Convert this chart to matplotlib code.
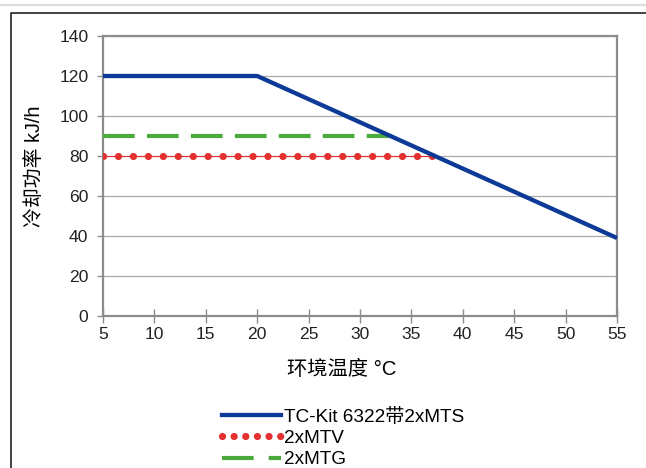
import matplotlib.pyplot as plt
from matplotlib.lines import Line2D

plt.rcParams['font.family'] = ['Liberation Sans', 'Noto Sans CJK SC', 'DejaVu Sans']

# data
x_tc = [5, 20, 55]
y_tc = [120, 120, 39]
x_mtv = [5, 37.1]
y_mtv = [80, 80]
x_mtg = [5, 33.1]
y_mtg = [90, 90]

xticks = list(range(5, 60, 5))
yticks = list(range(0, 160, 20))

labels = ["TC-Kit 6322带2xMTS", "2xMTV", "2xMTG"]

blue = "#0d3a96"
red = "#e4312f"
green = "#4aaa3c"
W, H = 646, 468

fig = plt.figure(figsize=(W / 100, H / 100), dpi=100)
ax = fig.add_axes([103 / W, 1 - 316 / H, 514 / W, 280 / H])

# frame bits around the chart
fig.add_artist(Line2D([0, 1], [1 - 5 / H, 1 - 5 / H], color="#dddddd", lw=1.6,
                      transform=fig.transFigure))
fig.add_artist(Line2D([11 / W, 11 / W, 1], [0, 1 - 13 / H, 1 - 13 / H], color="#111111",
                      lw=1.1, transform=fig.transFigure))

ax.plot(x_tc, y_tc, color=blue, lw=3.1, solid_capstyle="butt", zorder=5, clip_on=False)
ax.plot(x_mtv, y_mtv, color=red, lw=0.8, zorder=3)
ax.plot(x_mtv, y_mtv, color=red, lw=5.2, linestyle=(0, (0.01, 2.06)),
        dash_capstyle="round", zorder=4)
ax.plot(x_mtg, y_mtg, color=green, lw=3.0, linestyle=(0, (7.6, 2.95)),
        dash_capstyle="butt", zorder=4)

ax.set_xlim(5, 55)
ax.set_ylim(0, 140)
ax.set_xticks(xticks)
ax.set_yticks(yticks)
ax.yaxis.grid(True, color="#a8a8a8", lw=0.9)
ax.set_axisbelow(True)
for s in ax.spines.values():
    s.set_color("#8c8c8c")
    s.set_linewidth(1.6)
ax.tick_params(axis="y", direction="out", length=4.5, width=1, color="#8c8c8c",
               pad=6, labelsize=12.6, labelcolor="#222222")
ax.tick_params(axis="x", direction="inout", length=10, width=1, color="#8c8c8c",
               pad=3, labelsize=12.6, labelcolor="#222222")

fig.text(342 / W, 1 - 369 / H, "环境温度 °C", ha="center", va="center", fontsize=14.6)
fig.text(35 / W, 1 - 166 / H, "冷却功率 kJ/h", ha="center", va="center",
         rotation=90, fontsize=14.3)

h_tc = Line2D([], [], color=blue, lw=3.1)
h_mtv = Line2D([], [], color=red, lw=5.2, linestyle=(0, (0.01, 1.6)), dash_capstyle="round")
h_mtg = Line2D([], [], color=green, lw=3.0, linestyle=(0, (7.6, 3.6)))
fig.legend([h_tc, h_mtv, h_mtg], labels, loc="upper left",
           bbox_to_anchor=(222 / W, 1 - 408 / H), frameon=False, fontsize=13.7,
           handlelength=3.1, handletextpad=0.15, labelspacing=0.2,
           borderpad=0, borderaxespad=0)

fig.savefig("out.png", dpi=100)
